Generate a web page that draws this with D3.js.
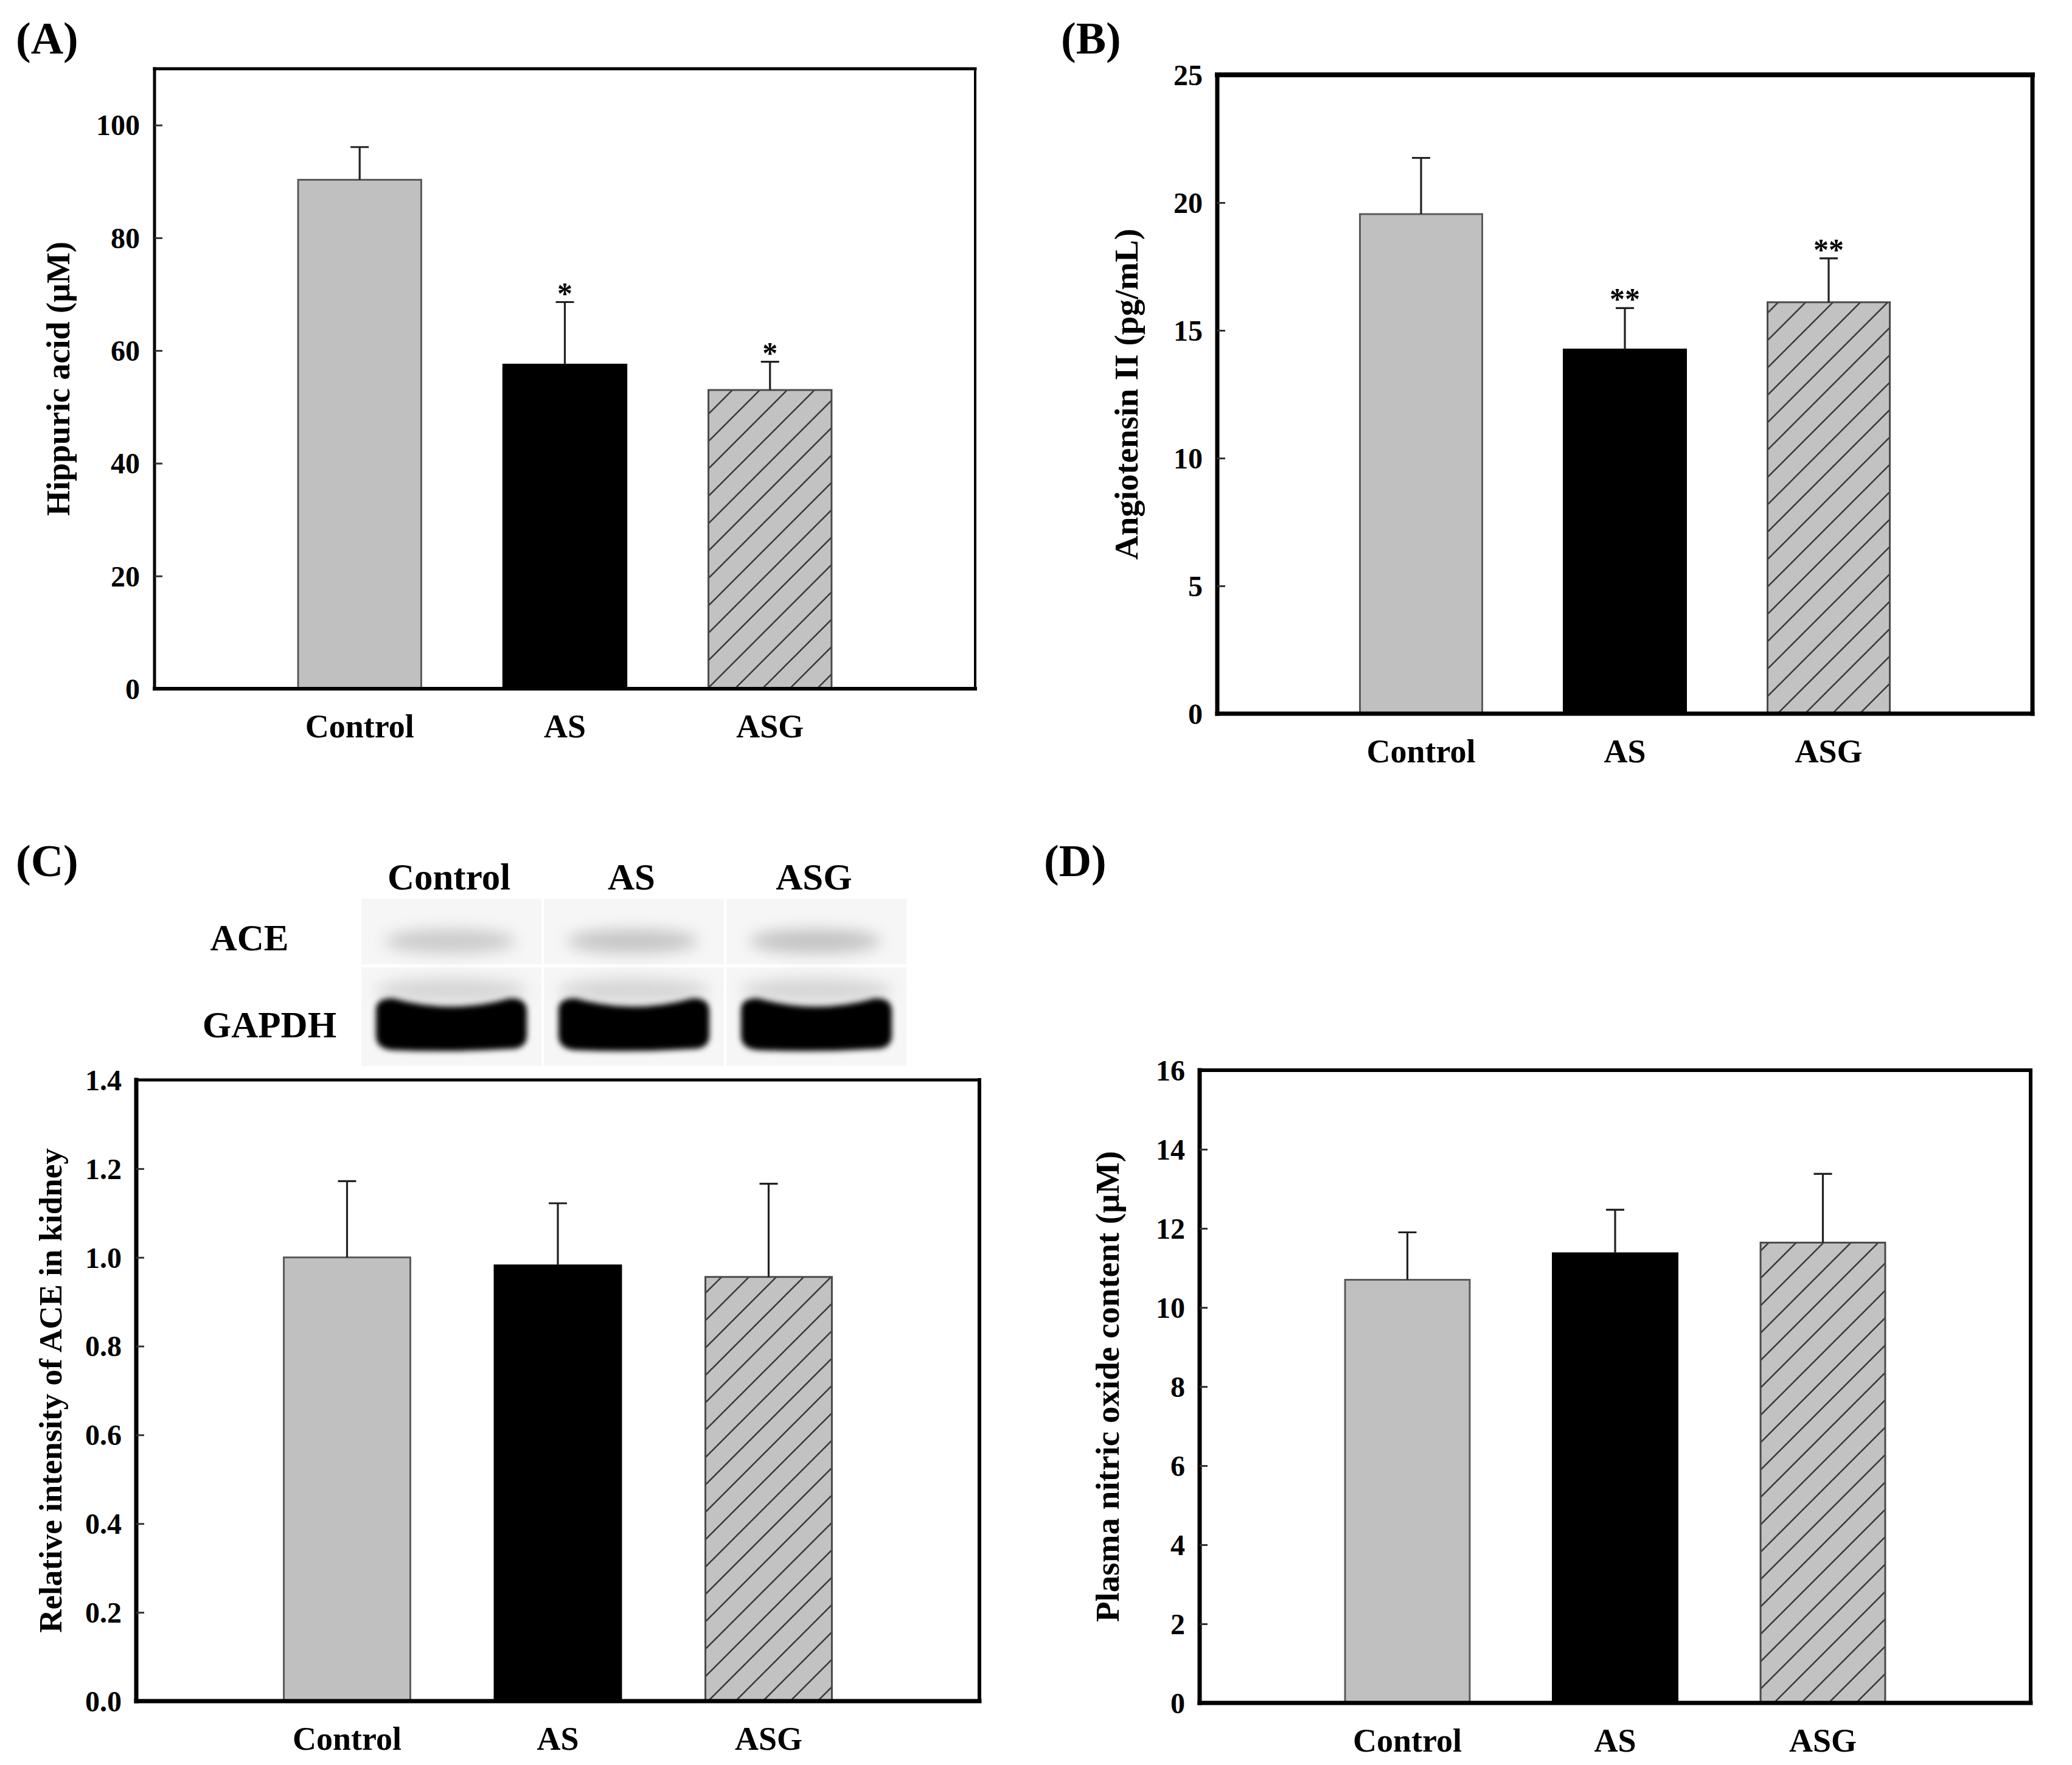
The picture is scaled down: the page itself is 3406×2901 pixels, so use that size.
<!DOCTYPE html>
<html>
<head>
<meta charset="utf-8">
<script src="https://cdn.jsdelivr.net/npm/d3@7"></script>
<style>
  body { margin: 0; background: #fff; }
  svg { display: block; }
  text { font-family: "Liberation Serif", "Times New Roman", serif; font-weight: bold; fill: #000; }
</style>
</head>
<body>
<div id="fig"></div>
<script>
// Data
const groups = ["Control", "AS", "ASG"];

const hippuricMean = [90.3, 57.5, 53.0];
const hippuricErr = [5.8, 11.1, 5.0];
const hippuricSig = ["", "*", "*"];
const hippuricTicks = [0, 20, 40, 60, 80, 100];

const angMean = [19.55, 14.25, 16.1];
const angErr = [2.2, 1.62, 1.72];
const angSig = ["", "**", "**"];
const angTicks = [0, 5, 10, 15, 20, 25];

const aceMean = [1.0, 0.982, 0.956];
const aceErr = [0.172, 0.14, 0.21];
const aceSig = ["", "", ""];
const aceTicks = [0, 0.2, 0.4, 0.6, 0.8, 1.0, 1.2, 1.4];

const noMean = [10.7, 11.37, 11.64];
const noErr = [1.2, 1.1, 1.74];
const noSig = ["", "", ""];
const noTicks = [0, 2, 4, 6, 8, 10, 12, 14, 16];

// western blot, relative band darkness per lane
const aceBand = [0.30, 0.34, 0.36];
const gapdhBand = [1.0, 1.0, 1.0];

const W = 3406, H = 2901;
const svg = d3.select("#fig").append("svg")
    .attr("width", W)
    .attr("height", H)
    .attr("viewBox", `0 0 ${W} ${H}`);

const defs = svg.append("defs");

// diagonal hatch for the ASG bars
let hatch = defs.append("pattern")
    .attr("id", "hatch")
    .attr("patternUnits", "userSpaceOnUse")
    .attr("width", 45)
    .attr("height", 45);
hatch.append("rect").attr("width", 45).attr("height", 45).attr("fill", "#c2c2c2");
hatch.append("path")
    .attr("d", "M0,45 L45,0 M-11.25,11.25 L11.25,-11.25 M33.75,56.25 L56.25,33.75")
    .attr("stroke", "#3a3a3a")
    .attr("stroke-width", 2.6);

defs.append("filter").attr("id", "blurS").attr("x", "-20%").attr("y", "-50%").attr("width", "140%").attr("height", "200%")
    .append("feGaussianBlur").attr("stdDeviation", 5);
defs.append("filter").attr("id", "blurL").attr("x", "-30%").attr("y", "-100%").attr("width", "160%").attr("height", "300%")
    .append("feGaussianBlur").attr("stdDeviation", 12);

const fills = ["#c0c0c0", "#000000", "url(#hatch)"];
const strokes = ["#5a5a5a", "#000000", "#4a4a4a"];

function drawPanel(p) {
    let x = d3.scaleLinear().domain([0, 4]).range([p.left, p.right]);
    let y = d3.scaleLinear().domain([0, p.ymax]).range([p.bottom, p.top]);

    let rows = groups.map((k, i) => ({ k: k, i: i, m: p.mean[i], e: p.err[i], s: p.sig[i] }));
    let g = svg.append("g").attr("class", "panel");

    // bars
    g.selectAll(".bar")
        .data(rows).enter()
        .append("rect")
        .attr("class", "bar")
        .attr("x", d => x(d.i + 1 - 0.3))
        .attr("width", x(0.6) - x(0))
        .attr("y", d => y(d.m))
        .attr("height", d => y(0) - y(d.m))
        .attr("fill", (d, i) => fills[i])
        .attr("stroke", (d, i) => strokes[i])
        .attr("stroke-width", 3);

    // error bars (upper only)
    g.selectAll(".err")
        .data(rows).enter()
        .append("path")
        .attr("class", "err")
        .attr("d", d => `M${x(d.i + 1)},${y(d.m)} V${y(d.m + d.e)} M${x(d.i + 1) - 15},${y(d.m + d.e)} H${x(d.i + 1) + 15}`)
        .attr("fill", "none")
        .attr("stroke", "#222")
        .attr("stroke-width", 3.2);

    // significance marks
    g.selectAll(".sig")
        .data(rows.filter(d => d.s)).enter()
        .append("text")
        .attr("class", "sig")
        .attr("x", d => x(d.i + 1))
        .attr("y", d => y(d.m + d.e) + 2)
        .attr("text-anchor", "middle")
        .attr("font-size", 50)
        .text(d => d.s);

    // frame
    let fw = p.frame;
    g.append("line").attr("x1", p.left).attr("x2", p.right).attr("y1", p.top).attr("y2", p.top)
        .attr("stroke", "#000").attr("stroke-width", fw[0]).attr("stroke-linecap", "square");
    g.append("line").attr("x1", p.right).attr("x2", p.right).attr("y1", p.top).attr("y2", p.bottom)
        .attr("stroke", "#000").attr("stroke-width", fw[1]).attr("stroke-linecap", "square");
    g.append("line").attr("x1", p.left).attr("x2", p.right).attr("y1", p.bottom).attr("y2", p.bottom)
        .attr("stroke", "#000").attr("stroke-width", fw[2]).attr("stroke-linecap", "square");
    g.append("line").attr("x1", p.left).attr("x2", p.left).attr("y1", p.top).attr("y2", p.bottom)
        .attr("stroke", "#000").attr("stroke-width", fw[3]).attr("stroke-linecap", "square");

    // y axis, ticks pointing inward
    let yAxis = d3.axisLeft(y)
        .tickValues(p.ticks)
        .tickSizeInner(-13)
        .tickSizeOuter(0)
        .tickPadding(24)
        .tickFormat(p.fmt);

    let ax = g.append("g")
        .attr("transform", `translate(${p.left},0)`)
        .call(yAxis);
    ax.select(".domain").remove();
    ax.selectAll(".tick line").attr("stroke", "#333").attr("stroke-width", 3)
        .filter(d => d === 0 || d === p.ymax).remove();
    ax.selectAll(".tick text")
        .attr("font-size", 48)
        .attr("font-family", null)
        .attr("fill", "#000")
        .attr("dy", "0.34em");

    // category labels
    g.selectAll(".cat")
        .data(rows).enter()
        .append("text")
        .attr("class", "cat")
        .attr("x", d => x(d.i + 1))
        .attr("y", p.bottom + 80)
        .attr("text-anchor", "middle")
        .attr("font-size", 54)
        .text(d => d.k);

    // y title
    g.append("text")
        .attr("transform", `translate(${p.titleX},${(p.top + p.bottom) / 2}) rotate(-90)`)
        .attr("text-anchor", "middle")
        .attr("dominant-baseline", "central")
        .attr("font-size", p.titleSize)
        .text(p.title);

    // panel letter
    svg.append("text")
        .attr("x", p.letterX)
        .attr("y", p.letterY)
        .attr("font-size", 74)
        .text(p.letter);
}

drawPanel({
    letter: "(A)", letterX: 26, letterY: 88,
    left: 254, right: 1603, top: 113, bottom: 1132, ymax: 110,
    mean: hippuricMean, err: hippuricErr, sig: hippuricSig,
    ticks: hippuricTicks, fmt: d3.format("d"),
    frame: [5, 4, 6, 5],
    title: "Hippuric acid  (\u00b5M)", titleX: 96, titleSize: 54
});

drawPanel({
    letter: "(B)", letterX: 1744, letterY: 88,
    left: 2001, right: 3341, top: 123, bottom: 1173, ymax: 25,
    mean: angMean, err: angErr, sig: angSig,
    ticks: angTicks, fmt: d3.format("d"),
    frame: [8, 7, 7, 7],
    title: "Angiotensin II (pg/mL)", titleX: 1851, titleSize: 55
});

drawPanel({
    letter: "(C)", letterX: 26, letterY: 1440,
    left: 224, right: 1610, top: 1775, bottom: 2796, ymax: 1.4,
    mean: aceMean, err: aceErr, sig: aceSig,
    ticks: aceTicks, fmt: d3.format(".1f"),
    frame: [5, 6, 7, 7],
    title: "Relative intensity of ACE in kidney", titleX: 83, titleSize: 53
});

drawPanel({
    letter: "(D)", letterX: 1716, letterY: 1440,
    left: 1972, right: 3338, top: 1759, bottom: 2799, ymax: 16,
    mean: noMean, err: noErr, sig: noSig,
    ticks: noTicks, fmt: d3.format("d"),
    frame: [6, 6, 7, 7],
    title: "Plasma nitric oxide content (\u00b5M)", titleX: 1820, titleSize: 55
});

// Western blot above panel C
function drawBlot() {
    let lane = d3.scalePoint().domain(groups).range([742, 1342]);
    let b = svg.append("g").attr("class", "blot");

    let rowsY = [[1477, 1585], [1590, 1752]];
    rowsY.forEach(r => {
        b.selectAll(null)
            .data(groups).enter()
            .append("rect")
            .attr("x", d => lane(d) - 148)
            .attr("width", 296)
            .attr("y", r[0])
            .attr("height", r[1] - r[0])
            .attr("fill", "#f6f6f6");
    });

    // faint ACE bands
    b.selectAll(".ace")
        .data(groups).enter()
        .append("ellipse")
        .attr("class", "ace")
        .attr("cx", d => lane(d) - 2)
        .attr("cy", 1547)
        .attr("rx", 108)
        .attr("ry", 20)
        .attr("fill", "#6a6a6a")
        .attr("opacity", (d, i) => aceBand[i])
        .attr("filter", "url(#blurL)");

    // haze above GAPDH
    b.selectAll(".haze")
        .data(groups).enter()
        .append("ellipse")
        .attr("cx", d => lane(d))
        .attr("cy", 1628)
        .attr("rx", 125)
        .attr("ry", 20)
        .attr("fill", "#999")
        .attr("opacity", 0.35)
        .attr("filter", "url(#blurL)");

    // dark GAPDH bands
    b.selectAll(".gapdh")
        .data(groups).enter()
        .append("path")
        .attr("class", "gapdh")
        .attr("d", d => {
            let c = lane(d), w = 124;
            return `M${c - w},1660 Q${c - w},1640 ${c - w + 28},1641 Q${c},1668 ${c + w - 28},1641 ` +
                `Q${c + w},1640 ${c + w},1662 L${c + w},1702 Q${c + w},1724 ${c + w - 28},1724 ` +
                `Q${c},1730 ${c - w + 28},1726 Q${c - w},1724 ${c - w},1702 Z`;
        })
        .attr("fill", "#000")
        .attr("opacity", (d, i) => gapdhBand[i])
        .attr("filter", "url(#blurS)");

    b.selectAll(".lane-label")
        .data(groups).enter()
        .append("text")
        .attr("class", "lane-label")
        .attr("x", d => lane(d) - 4)
        .attr("y", 1462)
        .attr("text-anchor", "middle")
        .attr("font-size", 61)
        .text(d => d);

    b.append("text").attr("x", 410).attr("y", 1562).attr("text-anchor", "middle")
        .attr("font-size", 61).text("ACE");
    b.append("text").attr("x", 443).attr("y", 1705).attr("text-anchor", "middle")
        .attr("font-size", 61).text("GAPDH");
}

drawBlot();
</script>
</body>
</html>
